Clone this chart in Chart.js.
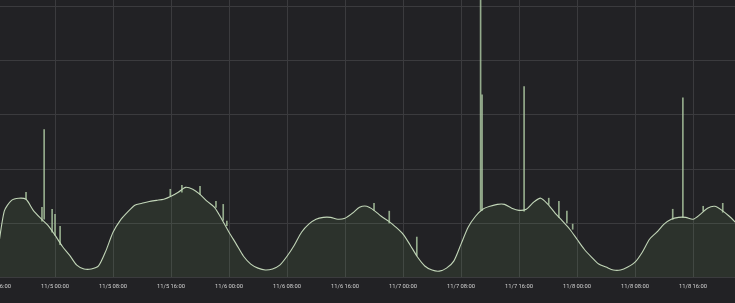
<!DOCTYPE html>
<html>
<head>
<meta charset="utf-8">
<script src="https://cdn.jsdelivr.net/npm/chart.js@4/dist/chart.umd.min.js"></script>
<style>
    html, body { margin: 0; padding: 0; background: #222225; }
    #frame { position: relative; width: 735px; height: 303px; overflow: hidden; background: #222225; }
    #plot { position: absolute; left: -23px; top: 0; }
</style>
</head>
<body>
<div id="frame">
    <canvas id="plot" width="758" height="303"></canvas>
</div>
<script>
// hours are counted from 11/5 00:00, one sample per hour
const firstHour = -8;
const trafficValues = [
    7.4, 24.4, 28.4, 29.2, 28.8, 24.7, 21.8, 19.2,          // 11/4 16:00 .. 23:00
    15.5, 11.4, 8.1, 4.4, 3.0, 3.0, 4.1, 9.6,               // 11/5 00:00 ..
    16.6, 21.0, 24.0, 26.6, 27.3, 28.0, 28.4, 28.8,
    29.9, 31.4, 33.2, 32.5, 30.6, 28.0, 25.8, 21.4,
    16.6, 12.2, 7.7, 4.8, 3.3, 2.6, 3.0, 4.4,               // 11/6 00:00 ..
    7.7, 11.8, 16.6, 19.6, 21.4, 22.1, 22.1, 21.4,
    21.8, 23.6, 25.8, 26.2, 24.7, 22.5, 20.7, 18.5,
    15.9, 11.8, 7.4, 4.1, 2.6, 2.2, 3.3, 5.9,               // 11/7 00:00 ..
    12.2, 18.5, 22.5, 25.1, 26.2, 26.9, 26.9, 25.5,
    24.7, 25.1, 27.7, 29.2, 26.9, 23.6, 20.7, 17.7,
    14.0, 10.3, 7.4, 4.8, 3.7, 2.6, 2.6, 3.7,               // 11/8 00:00 ..
    5.5, 9.2, 14.0, 16.6, 19.6, 21.4, 22.1, 22.1,
    21.4, 23.2, 25.5, 26.2, 24.7, 22.5, 19.9
];

// short bursts drawn as thin floating bars
const spikeHours = [-4.0, -1.8, -1.5, -0.4, 0.0, 0.7, 15.9, 17.5, 20.0, 22.2, 23.2, 23.7,
    44.0, 46.1, 49.9, 58.7, 58.9, 64.7, 68.1, 69.5, 70.6, 71.4, 85.2, 86.6, 89.4, 92.1];
const spikeLow = [28.8, 20.7, 21.4, 16.6, 15.5, 12.0, 29.9, 31.4, 30.6, 25.8, 21.0, 19.0,
    24.7, 20.0, 8.0, 24.7, 24.7, 24.4, 26.9, 22.1, 20.0, 17.7, 21.4, 22.1, 24.4, 24.0];
const spikeHigh = [31.4, 25.8, 54.6, 25.1, 23.2, 18.8, 32.5, 34.0, 33.6, 28.0, 26.9, 20.7,
    27.3, 24.4, 14.8, 110, 67.5, 70.5, 29.2, 28.0, 24.4, 19.6, 25.1, 66.4, 26.2, 27.3];

const tickLabels = ['11/4 16:00', '11/5 00:00', '11/5 08:00', '11/5 16:00', '11/6 00:00',
    '11/6 08:00', '11/6 16:00', '11/7 00:00', '11/7 08:00', '11/7 16:00',
    '11/8 00:00', '11/8 08:00', '11/8 16:00'];

const lineColor = '#c2d6b8';
const gridColor = '#3b3b3e';

const linePoints = trafficValues.map((v, i) => ({ x: firstHour + i, y: v }));
const spikePoints = spikeHours.map((h, i) => ({ x: h, y: [spikeLow[i], spikeHigh[i]] }));

new Chart(document.getElementById('plot').getContext('2d'), {
    type: 'line',
    data: {
        datasets: [
            {
                type: 'line',
                data: linePoints,
                borderColor: lineColor,
                borderWidth: 1.1,
                backgroundColor: 'rgba(126, 178, 109, 0.11)',
                fill: 'origin',
                pointRadius: 0,
                tension: 0.25,
                order: 0
            },
            {
                type: 'bar',
                data: spikePoints,
                backgroundColor: 'rgba(178, 206, 166, 0.8)',
                barThickness: 1,
                order: 1
            }
        ]
    },
    options: {
        responsive: false,
        animation: false,
        devicePixelRatio: 1,
        layout: { padding: { left: 20, right: 0, top: 0, bottom: 7 } },
        plugins: {
            legend: { display: false },
            tooltip: { enabled: false }
        },
        scales: {
            x: {
                type: 'linear',
                min: -8,
                max: 93.79,
                offset: false,
                grid: { color: gridColor, drawTicks: false, offset: false },
                border: { display: false },
                ticks: {
                    stepSize: 8,
                    includeBounds: false,
                    maxTicksLimit: 30,
                    autoSkip: false,
                    maxRotation: 0,
                    padding: 6,
                    color: '#d2d2d2',
                    font: { family: 'Roboto', size: 5.8 },
                    callback: (value, index) => tickLabels[index]
                }
            },
            y: {
                min: 0,
                max: 102.58,
                grid: { color: gridColor, drawTicks: false },
                border: { display: false },
                ticks: { display: false, stepSize: 20, includeBounds: false }
            }
        }
    }
});
</script>
</body>
</html>
